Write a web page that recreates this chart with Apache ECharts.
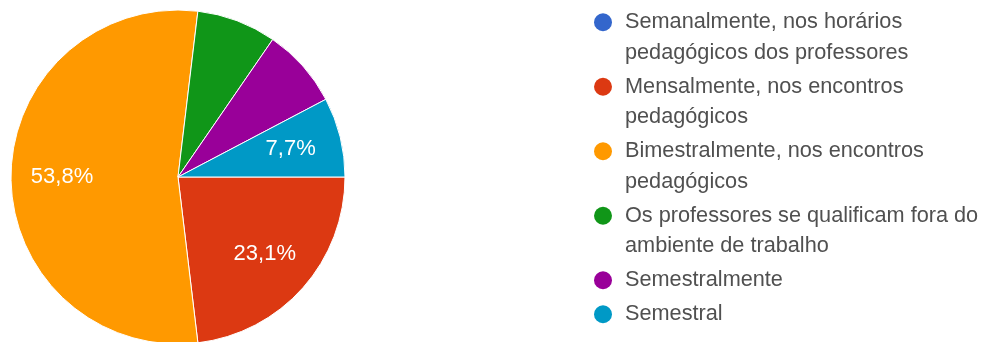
<!DOCTYPE html>
<html>
<head>
<meta charset="utf-8">
<script src="https://cdn.jsdelivr.net/npm/echarts@6/dist/echarts.min.js"></script>
<style>
html,body{margin:0;padding:0;background:#fff;}
#chart{width:989px;height:342px;}
</style>
</head>
<body>
<div id="chart"></div>
<script>
// Categories (legend lines broken as in the reference)
const categories = [
  'Semanalmente, nos horários\npedagógicos dos professores',
  'Mensalmente, nos encontros\npedagógicos',
  'Bimestralmente, nos encontros\npedagógicos',
  'Os professores se qualificam fora do\nambiente de trabalho',
  'Semestralmente',
  'Semestral'
];
// Percentages
const values = [0, 23.1, 53.8, 7.7, 7.7, 7.7];
// Slices whose percentage label is printed
const labelled = [false, true, true, false, false, true];
const colors = ['#3366cc', '#dc3912', '#ff9900', '#109618', '#990099', '#0099c6'];

const FONT = '"Liberation Sans", Arial, sans-serif';
const LH = 30.5;

const rich = {
  gap: { width: 13 },
  ind: { width: 31 },
  t: { fontSize: 21.7, color: '#505050', lineHeight: LH, fontFamily: FONT }
};
colors.forEach((c, i) => {
  rich['c' + i] = { width: 18, height: 18, borderRadius: 9, backgroundColor: c, lineHeight: LH };
});

const fmtPct = v => v.toFixed(1).replace('.', ',') + '%';

const chart = echarts.init(document.getElementById('chart'), null, { renderer: 'canvas' });
chart.setOption({
  backgroundColor: '#ffffff',
  animation: false,
  color: colors,
  legend: {
    orient: 'vertical',
    left: 589,
    top: 7,
    padding: 0,
    itemGap: 3.5,
    icon: 'none',
    itemWidth: 0,
    itemHeight: 10,
    selectedMode: false,
    data: categories,
    formatter: name => {
      const i = categories.indexOf(name);
      return name.split('\n').map((ln, k) =>
        (k === 0 ? '{c' + i + '| }{gap| }' : '{ind| }') + '{t|' + ln + '}'
      ).join('\n');
    },
    textStyle: { fontSize: 21.7, lineHeight: LH, color: '#505050', fontFamily: FONT, rich: rich }
  },
  series: [
    {
      type: 'pie',
      center: [178, 177],
      radius: [0, 167],
      startAngle: 0,
      clockwise: true,
      silent: true,
      avoidLabelOverlap: false,
      itemStyle: { borderColor: '#ffffff', borderWidth: 1 },
      label: { show: false },
      labelLine: { show: false },
      emphasis: { disabled: true },
      data: categories.map((n, i) => ({ name: n, value: values[i] }))
    },
    {
      // transparent twin used only to place the percentage labels further out
      type: 'pie',
      center: [178, 177],
      radius: [0, 226],
      startAngle: 0,
      clockwise: true,
      silent: true,
      avoidLabelOverlap: false,
      itemStyle: { color: 'rgba(0,0,0,0)', borderWidth: 0 },
      labelLine: { show: false },
      emphasis: { disabled: true },
      label: {
        position: 'inside',
        color: '#ffffff',
        fontSize: 22,
        fontFamily: FONT,
        formatter: p => fmtPct(p.value)
      },
      data: categories.map((n, i) => ({ name: n, value: values[i], label: { show: labelled[i] } }))
    }
  ]
});
</script>
</body>
</html>
